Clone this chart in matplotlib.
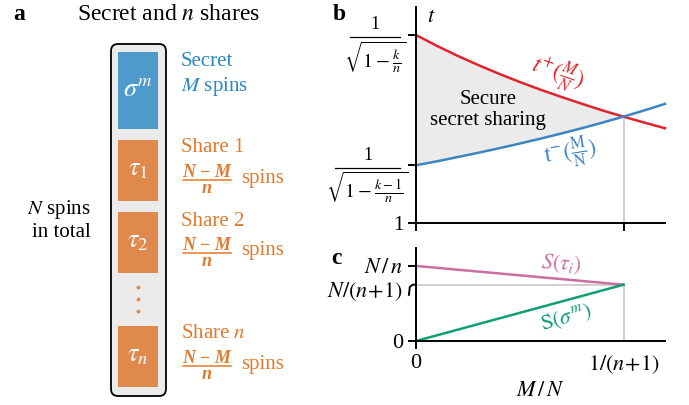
import numpy as np
import matplotlib.pyplot as plt
from matplotlib.patches import FancyBboxPatch, Rectangle

plt.rcParams['font.family'] = 'serif'
plt.rcParams['font.serif'] = ['Liberation Serif', 'DejaVu Serif']
plt.rcParams['mathtext.fontset'] = 'stix'
plt.rcParams['font.size'] = 15

# data (n = 3, k = 2)
x_mn = [0.0, 0.025, 0.05, 0.075, 0.1, 0.125, 0.15, 0.175, 0.2, 0.225, 0.25, 0.275, 0.3]
t_plus = [1.732, 1.690, 1.651, 1.615, 1.581, 1.549, 1.519, 1.491, 1.464, 1.438, 1.414, 1.391, 1.369]
t_minus = [1.2247, 1.240, 1.2566, 1.2734, 1.291, 1.3093, 1.3284, 1.3484, 1.3693, 1.3912, 1.4142, 1.4384, 1.4639]
x_cross = 0.25
t_ticks = [1, 1.2247, 1.732]
s_x = [0.0, 0.25]
s_tau = [1/3, 0.25]
s_sigma = [0.0, 0.25]

red = '#e3232b'
blue = '#3d84c4'
pink = '#cc6ea3'
green = '#0f9e75'
orange = '#e0894c'
orange_txt = '#e07a2c'
blue_txt = '#2a86c6'
box_blue = '#4e9bcb'
fill_gray = '#ebebeb'

W, H = 689, 405
fig = plt.figure(figsize=(6.89, 4.05), dpi=100)

def px_axes(x0, y0, x1, y1):
    return fig.add_axes([x0 / W, 1 - y1 / H, (x1 - x0) / W, (y1 - y0) / H])

# ---- panel a ----
axa = fig.add_axes([0, 0, 1, 1])
axa.set_xlim(0, W)
axa.set_ylim(H, 0)
axa.axis('off')

axa.add_patch(FancyBboxPatch((111, 44), 55, 352, boxstyle='round,pad=0,rounding_size=7',
                             fc=fill_gray, ec='black', lw=1.3))
axa.add_patch(Rectangle((118, 52), 40, 77, fc=box_blue, ec='none'))
for y0, y1 in [(140, 201), (212, 273), (326, 387)]:
    axa.add_patch(Rectangle((118, y0), 40, y1 - y0, fc=orange, ec='none'))

axa.text(138, 90, r'$\sigma^m$', color='white', ha='center', va='center', fontsize=19)
axa.text(138, 170, r'$\tau_1$', color='white', ha='center', va='center', fontsize=19)
axa.text(138, 242, r'$\tau_2$', color='white', ha='center', va='center', fontsize=19)
axa.text(138, 356, r'$\tau_n$', color='white', ha='center', va='center', fontsize=19)
for yy in [287, 299, 311]:
    axa.plot(138, yy, 'o', ms=1.8, color=orange)

axa.text(13, 15, 'a', fontweight='bold', fontsize=17, va='center')
axa.text(168, 15, r'Secret and $n$ shares', ha='center', va='center', fontsize=17)
axa.text(91, 220, '$N$ spins\nin total', ha='right', va='center', linespacing=1.15)

axa.text(181, 62, 'Secret', color=blue_txt, va='center')
axa.text(181, 87, r'$M$ spins', color=blue_txt, va='center')
for lab, y in [('Share 1', 148), ('Share 2', 221), (r'Share $n$', 334)]:
    yb = y + 32
    axa.text(181, y, lab, color=orange_txt, va='center')
    axa.text(207, yb - 3, 'N \u2212 M', color=orange_txt, ha='center', va='baseline',
             fontsize=13, fontstyle='italic', fontweight='bold')
    axa.plot([183, 231], [yb, yb], color=orange_txt, lw=1.1)
    axa.text(207, yb + 13, 'n', color=orange_txt, ha='center', va='baseline',
             fontsize=13, fontstyle='italic', fontweight='bold')
    axa.text(241, yb - 2, 'spins', color=orange_txt, va='center')

# ---- panel b ----
axb = px_axes(416, 7, 665, 223)
axb.set_xlim(0, 0.3)
axb.set_ylim(1, 1.841)
axb.fill_between(x_mn[:11], t_minus[:11], t_plus[:11], color=fill_gray, lw=0)
axb.plot([x_cross, x_cross], [1, 1.4142], color='#c8c8c8', lw=1.2)
axb.plot(x_mn, t_plus, color=red, lw=1.8, clip_on=False)
axb.plot(x_mn, t_minus, color=blue, lw=1.8, clip_on=False)
axb.text(0.087, 1.44, 'Secure\nsecret sharing', ha='center', va='center', linespacing=1.15)
axb.text(0.171, 1.58, r'$t^{+}(\frac{M}{N})$', color=red, ha='center', va='center', fontsize=17, rotation=-19)
axb.text(0.187, 1.27, r'$\mathrm{t}^{-}(\frac{\mathrm{M}}{\mathrm{N}})$', color=blue, ha='center', va='center', fontsize=17, rotation=9)
axb.text(0.013, 1.80, r'$t$', fontsize=16, va='center')
axb.set_xticks([0, x_cross])
axb.set_xticklabels([])
axb.set_yticks(t_ticks)
axb.set_yticklabels(['1', '', ''])

# fraction tick labels drawn by hand
def frac_label(ax, ytick, x0, x1, den):
    ybar = ytick - 0.009
    ax.plot([x0, x1], [ybar, ybar], color='black', lw=0.9, clip_on=False)
    xc = (x0 + x1) / 2
    ax.text(xc, ybar + 0.015, '1', ha='center', va='bottom', fontsize=13, clip_on=False)
    ax.text(xc, ybar - 0.008, den, ha='center', va='top', fontsize=14.5, clip_on=False)

frac_label(axb, t_ticks[2], -0.0793, -0.0192, r'$\sqrt{1-\frac{k}{n}}$')
frac_label(axb, t_ticks[1], -0.0974, -0.0192, r'$\sqrt{1-\frac{k-1}{n}}$')

for s in ['top', 'right']:
    axb.spines[s].set_visible(False)
for s in ['left', 'bottom']:
    axb.spines[s].set_linewidth(1.4)
axb.tick_params(direction='out', length=6, width=1.4, pad=3)
fig.text(333 / W, 1 - 14 / H, 'b', fontweight='bold', fontsize=17, va='center')

# ---- panel c ----
axc = px_axes(416, 248, 665, 341)
axc.set_xlim(0, 0.3)
axc.set_ylim(0, 0.413)
axc.plot([0, x_cross], [0.25, 0.25], color='#c8c8c8', lw=1.2)
axc.plot([x_cross, x_cross], [0, 0.25], color='#c8c8c8', lw=1.2)
axc.plot(s_x, s_tau, color=pink, lw=1.8)
axc.plot(s_x, s_sigma, color=green, lw=1.8)
axc.text(0.1755, 0.34, r'$S(\tau_i)$', color=pink, ha='center', va='center', fontsize=16, rotation=-4)
axc.text(0.181, 0.105, r'$\mathrm{S}(\sigma^m)$', color=green, ha='center', va='center', fontsize=16, rotation=16)
axc.set_xticks([0, x_cross])
axc.set_xticklabels(['0', r'$1/(n\!+\!1)$'], fontsize=16)
axc.xaxis.get_major_ticks()[1].tick1line.set_visible(False)
axc.set_yticks([0, 1/3])
axc.set_yticklabels(['0', r'$N\,/\,n$'], fontsize=16)
axc.set_xlabel(r'$M\,/\,N$', fontsize=16, labelpad=4)
# bent tick for N/(n+1)
yb = 0.25
axc.plot([0, -0.004, -0.0075, -0.0085], [yb, yb, yb - 0.01, yb - 0.045], color='black', lw=1.4, clip_on=False)
axc.text(-0.016, yb - 0.03, r'$N/(n\!+\!1)$', ha='right', va='center', fontsize=16)
for s in ['top', 'right']:
    axc.spines[s].set_visible(False)
for s in ['left', 'bottom']:
    axc.spines[s].set_linewidth(1.4)
axc.tick_params(direction='out', length=6, width=1.4, pad=3)
fig.text(331 / W, 1 - 258 / H, 'c', fontweight='bold', fontsize=17, va='center')

fig.savefig('out.png', dpi=100)
